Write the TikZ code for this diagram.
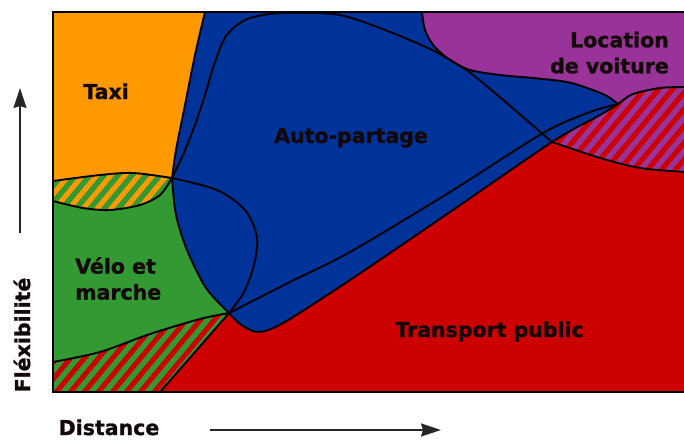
\documentclass[tikz,border=0pt]{standalone}
\usepackage{fontspec}
\setmainfont{DejaVu Sans}[BoldFeatures={FakeBold=1.2}]
\usetikzlibrary{arrows.meta}
\definecolor{cred}{HTML}{CC0000}
\definecolor{cblue}{HTML}{003399}
\definecolor{cgreen}{HTML}{339933}
\definecolor{corange}{HTML}{FF9900}
\definecolor{cpurple}{HTML}{993399}
\definecolor{ctext}{HTML}{120808}
\newcommand{\mystripes}[1]{\foreach \k in {-380,-366,...,720} {\draw[#1, line width=5.4pt] (\k,420) -- ++(420,-504);}}
\begin{document}
\begin{tikzpicture}[x=1pt,y=-1pt,
  bd/.style={line width=1.9pt, black, line join=round, line cap=round},
  lbl/.style={font=\fontsize{20.5}{26}\selectfont\bfseries, text=ctext, inner sep=0pt},
  arr/.style={line width=1.8pt, black!85, -{Stealth[length=20pt,width=13pt,inset=2pt]}}]
\useasboundingbox (0,0) rectangle (684,439);
\begin{scope}
\clip (0,0) rectangle (684,439);
% background: transport public
\fill[cred] (53,12) rectangle (700,392);
% green: velo et marche
\fill[cgreen] plot[smooth] coordinates {(53,181) (100,175) (133,173) (172,178)}
  -- plot[smooth] coordinates {(172,178) (176,215) (187,250) (206,288) (229,313)}
  -- (160,392) -- (53,392) -- cycle;
% orange: taxi
\fill[corange] (53,12) -- plot[smooth] coordinates {(205,12) (195,55) (184,110) (176,150) (172,178)}
  -- plot[smooth] coordinates {(172,178) (160,195) (140,205) (110,210) (83,208) (53,201)} -- cycle;
% orange/green hatch
\begin{scope}
\clip plot[smooth] coordinates {(53,181) (100,175) (133,173) (172,178)}
  -- plot[smooth] coordinates {(172,178) (160,195) (140,205) (110,210) (83,208) (53,201)} -- cycle;
\fill[corange] (0,0) rectangle (700,439);
\mystripes{cgreen}
\end{scope}
% red/green hatch
\begin{scope}
\clip plot[smooth] coordinates {(53,362) (100,352) (150,334) (200,319) (229,313)} -- (160,392) -- (53,392) -- cycle;
\fill[cred] (0,0) rectangle (700,439);
\mystripes{cgreen}
\end{scope}
% purple: location de voiture
\fill[cpurple] plot[smooth] coordinates {(422,12) (425,30) (434,46) (450,60) (470,70) (500,75) (533,78) (567,82) (590,89) (607,96) (618,104)}
  -- plot[smooth] coordinates {(618,104) (633,94) (660,88) (684,87) (700,87)} -- (700,12) -- cycle;
% purple/red hatch
\begin{scope}
\clip plot[smooth] coordinates {(618,104) (633,94) (660,88) (684,87) (700,87)} -- (700,173)
  -- plot[smooth] coordinates {(700,173) (684,172) (640,168) (600,158) (552,142)} -- cycle;
\fill[cred] (0,0) rectangle (700,439);
\mystripes{cpurple}
\end{scope}
% blue: auto-partage
\fill[cblue] plot[smooth] coordinates {(205,12) (195,55) (184,110) (176,150) (172,178)}
  -- plot[smooth] coordinates {(172,178) (176,215) (187,250) (206,288) (229,313)}
  -- plot[smooth] coordinates {(229,313) (240,324) (258,332) (283,323) (350,280) (450,212) (552,142) (600,115) (618,104)}
  -- plot[smooth] coordinates {(618,104) (607,96) (590,89) (567,82) (533,78) (500,75) (470,70) (450,60) (434,46) (425,30) (422,12)} -- cycle;
% boundary lines
\draw[bd] plot[smooth] coordinates {(205,12) (195,55) (184,110) (176,150) (172,178)};
\draw[bd] plot[smooth] coordinates {(172,178) (176,215) (187,250) (206,288) (229,313)};
\draw[bd] plot[smooth] coordinates {(172,178) (183,155) (195,125) (205,95) (214,65) (226,36) (245,20) (270,14) (300,13) (340,15) (385,30) (432,50) (469,72) (509,105) (552,142)};
\draw[bd] plot[smooth] coordinates {(700,173) (684,172) (640,168) (600,158) (552,142)};
\draw[bd] plot[smooth] coordinates {(172,178) (217,190) (245,210) (257,237) (254,265) (244,292) (229,313)};
\draw[bd] plot[smooth] coordinates {(229,313) (290,282) (350,252) (450,192) (543,133) (590,112) (618,104)};
\draw[bd] plot[smooth] coordinates {(618,104) (633,94) (660,88) (684,87) (700,87)};
\draw[bd] plot[smooth] coordinates {(229,313) (240,324) (258,332) (283,323) (350,280) (450,212) (552,142) (600,115) (618,104)};
\draw[bd] plot[smooth] coordinates {(422,12) (425,30) (434,46) (450,60) (470,70) (500,75) (533,78) (567,82) (590,89) (607,96) (618,104)};
\draw[bd] plot[smooth] coordinates {(53,181) (100,175) (133,173) (172,178)};
\draw[bd] plot[smooth] coordinates {(172,178) (160,195) (140,205) (110,210) (83,208) (53,201)};
\draw[bd] plot[smooth] coordinates {(53,362) (100,352) (150,334) (200,319) (229,313)};
\draw[bd] (229,313) -- (160,392);
% frame
\draw[line width=2.6pt, black] (53,12) rectangle (720,392);
\end{scope}
% labels
\node[lbl, anchor=base] (taxi) at (106,99) {Taxi};
\node[lbl, anchor=base] (auto) at (351,143) {Auto-partage};
\node[lbl, align=right, anchor=north east] (loc) at (669,31.5) {Location\\de voiture};
\node[lbl, align=left, anchor=north west] (velo) at (75,257) {Vélo et\\marche};
\node[lbl, anchor=base] (tp) at (489.5,337) {Transport public};
\node[lbl, rotate=90] (flex) at (22,335) {Fléxibilité};
\node[lbl, anchor=base] (dist) at (109,435) {Distance};
% axis arrows
\coordinate (vlo) at (20,233);
\coordinate (vhi) at (20,88);
\coordinate (hlo) at (210,430);
\coordinate (hhi) at (441,430);
\draw[arr] (vlo) -- (vhi);
\draw[arr] (hlo) -- (hhi);
\end{tikzpicture}
\end{document}
